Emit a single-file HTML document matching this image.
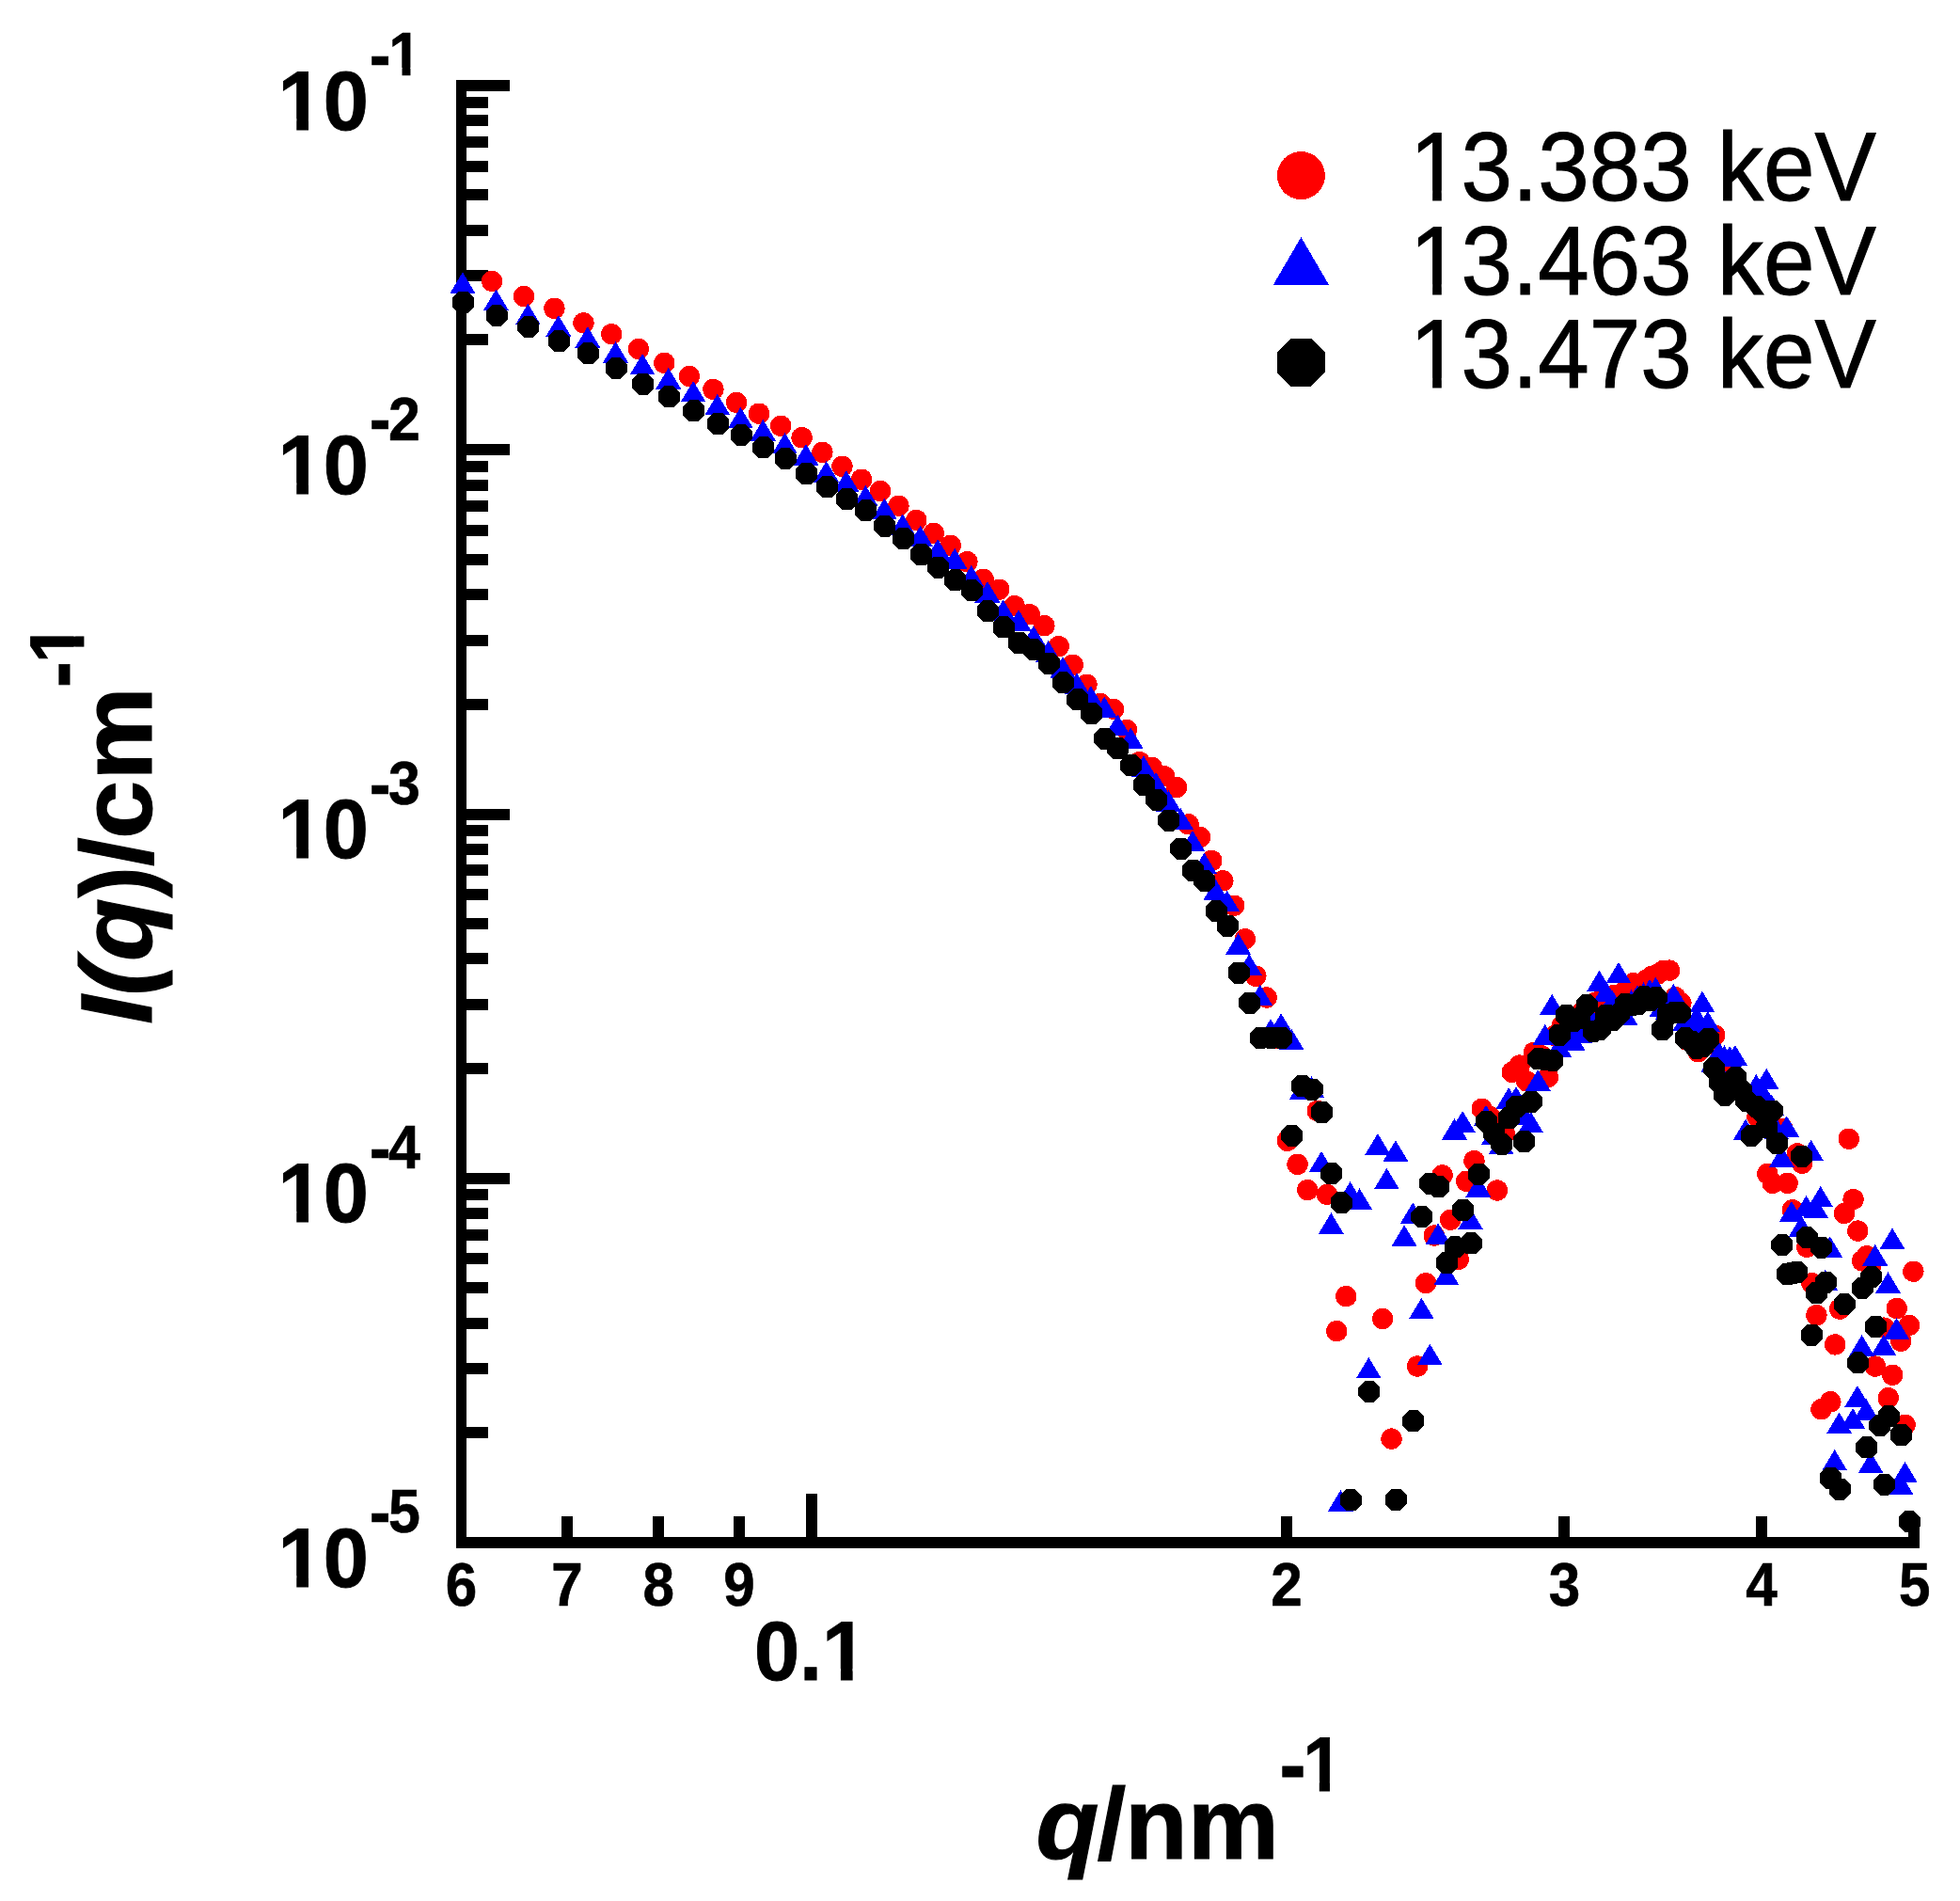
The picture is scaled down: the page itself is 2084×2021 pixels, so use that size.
<!DOCTYPE html>
<html><head><meta charset="utf-8"><title>I(q) plot</title>
<style>html,body{margin:0;padding:0;background:#fff}svg{display:block}text{stroke:#000;stroke-linejoin:miter;font-family:"Liberation Sans",Arial,Helvetica,sans-serif;fill:#000}.b{font-weight:bold}.i{font-style:italic}.w{fill:#fff}</style></head><body>
<svg width="2084" height="2021" viewBox="0 0 2084 2021">
<rect width="2084" height="2021" fill="#fff"/>
<g fill="#000" shape-rendering="crispEdges">
<rect x="485" y="85" width="11" height="1561"/>
<rect x="485" y="1634" width="1556" height="12"/>
<rect x="485" y="85" width="57" height="12"/>
<rect x="490" y="355.48" width="29" height="12"/>
<rect x="490" y="287.28" width="29" height="12"/>
<rect x="490" y="238.9" width="29" height="12"/>
<rect x="490" y="201.37" width="29" height="12"/>
<rect x="490" y="170.71" width="29" height="12"/>
<rect x="490" y="144.79" width="29" height="12"/>
<rect x="490" y="122.33" width="29" height="12"/>
<rect x="490" y="102.52" width="29" height="12"/>
<rect x="485" y="472.25" width="57" height="12"/>
<rect x="490" y="742.73" width="29" height="12"/>
<rect x="490" y="674.53" width="29" height="12"/>
<rect x="490" y="626.15" width="29" height="12"/>
<rect x="490" y="588.62" width="29" height="12"/>
<rect x="490" y="557.96" width="29" height="12"/>
<rect x="490" y="532.04" width="29" height="12"/>
<rect x="490" y="509.58" width="29" height="12"/>
<rect x="490" y="489.77" width="29" height="12"/>
<rect x="485" y="859.5" width="57" height="12"/>
<rect x="490" y="1129.98" width="29" height="12"/>
<rect x="490" y="1061.78" width="29" height="12"/>
<rect x="490" y="1013.4" width="29" height="12"/>
<rect x="490" y="975.87" width="29" height="12"/>
<rect x="490" y="945.21" width="29" height="12"/>
<rect x="490" y="919.29" width="29" height="12"/>
<rect x="490" y="896.83" width="29" height="12"/>
<rect x="490" y="877.02" width="29" height="12"/>
<rect x="485" y="1246.75" width="57" height="12"/>
<rect x="490" y="1517.23" width="29" height="12"/>
<rect x="490" y="1449.03" width="29" height="12"/>
<rect x="490" y="1400.65" width="29" height="12"/>
<rect x="490" y="1363.12" width="29" height="12"/>
<rect x="490" y="1332.46" width="29" height="12"/>
<rect x="490" y="1306.54" width="29" height="12"/>
<rect x="490" y="1284.08" width="29" height="12"/>
<rect x="490" y="1264.27" width="29" height="12"/>
<rect x="596.84" y="1612" width="12" height="26"/>
<rect x="694.15" y="1612" width="12" height="26"/>
<rect x="779.98" y="1612" width="12" height="26"/>
<rect x="856.76" y="1588" width="12" height="50"/>
<rect x="1361.89" y="1612" width="12" height="26"/>
<rect x="1657.37" y="1612" width="12" height="26"/>
<rect x="1867.02" y="1612" width="12" height="26"/>
<rect x="2029" y="1612" width="12" height="26"/>
</g>
<g fill="#f00" shape-rendering="crispEdges">
<circle cx="523.12" cy="298.9" r="11.2"/>
<circle cx="557.04" cy="315" r="11.2"/>
<circle cx="589.44" cy="327.9" r="11.2"/>
<circle cx="620.46" cy="343.3" r="11.2"/>
<circle cx="650.22" cy="355.2" r="11.2"/>
<circle cx="678.81" cy="371" r="11.2"/>
<circle cx="706.32" cy="385.9" r="11.2"/>
<circle cx="732.83" cy="400" r="11.2"/>
<circle cx="758.41" cy="413.9" r="11.2"/>
<circle cx="783.12" cy="427.9" r="11.2"/>
<circle cx="807.02" cy="439.7" r="11.2"/>
<circle cx="830.16" cy="452.8" r="11.2"/>
<circle cx="852.59" cy="465.2" r="11.2"/>
<circle cx="874.35" cy="480.9" r="11.2"/>
<circle cx="895.48" cy="495.8" r="11.2"/>
<circle cx="916.01" cy="509.7" r="11.2"/>
<circle cx="935.98" cy="522" r="11.2"/>
<circle cx="955.42" cy="537.7" r="11.2"/>
<circle cx="974.35" cy="553" r="11.2"/>
<circle cx="992.81" cy="566.8" r="11.2"/>
<circle cx="1010.8" cy="579.9" r="11.2"/>
<circle cx="1028.37" cy="597.1" r="11.2"/>
<circle cx="1045.52" cy="615.7" r="11.2"/>
<circle cx="1062.27" cy="626.8" r="11.2"/>
<circle cx="1078.65" cy="644.2" r="11.2"/>
<circle cx="1094.67" cy="653.1" r="11.2"/>
<circle cx="1110.35" cy="665.1" r="11.2"/>
<circle cx="1125.69" cy="687.1" r="11.2"/>
<circle cx="1140.72" cy="706.8" r="11.2"/>
<circle cx="1155.45" cy="727.8" r="11.2"/>
<circle cx="1169.88" cy="748" r="11.2"/>
<circle cx="1184.03" cy="753.8" r="11.2"/>
<circle cx="1197.91" cy="775.9" r="11.2"/>
<circle cx="1211.54" cy="810" r="11.2"/>
<circle cx="1224.91" cy="816.1" r="11.2"/>
<circle cx="1238.04" cy="825.3" r="11.2"/>
<circle cx="1250.94" cy="837" r="11.2"/>
<circle cx="1263.62" cy="876.3" r="11.2"/>
<circle cx="1276.08" cy="889.9" r="11.2"/>
<circle cx="1288.33" cy="915" r="11.2"/>
<circle cx="1300.37" cy="936.3" r="11.2"/>
<circle cx="1312.23" cy="962.8" r="11.2"/>
<circle cx="1323.89" cy="998.3" r="11.2"/>
<circle cx="1335.36" cy="1037.8" r="11.2"/>
<circle cx="1346.66" cy="1060.5" r="11.2"/>
<circle cx="1357.79" cy="1104.2" r="11.2"/>
<circle cx="1368.75" cy="1212.9" r="11.2"/>
<circle cx="1379.55" cy="1237.8" r="11.2"/>
<circle cx="1390.19" cy="1265.1" r="11.2"/>
<circle cx="1400.68" cy="1181" r="11.2"/>
<circle cx="1411.01" cy="1269.8" r="11.2"/>
<circle cx="1421.21" cy="1415.1" r="11.2"/>
<circle cx="1431.26" cy="1378.1" r="11.2"/>
<circle cx="1470.14" cy="1402" r="11.2"/>
<circle cx="1479.54" cy="1529.6" r="11.2"/>
<circle cx="1507.05" cy="1452.5" r="11.2"/>
<circle cx="1515.99" cy="1364.2" r="11.2"/>
<circle cx="1524.82" cy="1313.5" r="11.2"/>
<circle cx="1533.55" cy="1249.3" r="11.2"/>
<circle cx="1542.18" cy="1296.7" r="11.2"/>
<circle cx="1550.7" cy="1338.8" r="11.2"/>
<circle cx="1559.13" cy="1255.7" r="11.2"/>
<circle cx="1567.46" cy="1234.2" r="11.2"/>
<circle cx="1575.69" cy="1178.9" r="11.2"/>
<circle cx="1583.84" cy="1187" r="11.2"/>
<circle cx="1591.89" cy="1265.5" r="11.2"/>
<circle cx="1599.85" cy="1205" r="11.2"/>
<circle cx="1607.73" cy="1139.9" r="11.2"/>
<circle cx="1615.53" cy="1132.6" r="11.2"/>
<circle cx="1623.24" cy="1149.4" r="11.2"/>
<circle cx="1630.87" cy="1118.9" r="11.2"/>
<circle cx="1638.42" cy="1122" r="11.2"/>
<circle cx="1645.9" cy="1145.2" r="11.2"/>
<circle cx="1653.3" cy="1101" r="11.2"/>
<circle cx="1660.62" cy="1091" r="11.2"/>
<circle cx="1667.87" cy="1088" r="11.2"/>
<circle cx="1675.05" cy="1084" r="11.2"/>
<circle cx="1682.16" cy="1076" r="11.2"/>
<circle cx="1689.21" cy="1078" r="11.2"/>
<circle cx="1696.18" cy="1065.8" r="11.2"/>
<circle cx="1703.09" cy="1062" r="11.2"/>
<circle cx="1709.93" cy="1060" r="11.2"/>
<circle cx="1716.71" cy="1057.7" r="11.2"/>
<circle cx="1723.43" cy="1056.8" r="11.2"/>
<circle cx="1730.08" cy="1050" r="11.2"/>
<circle cx="1736.68" cy="1045.2" r="11.2"/>
<circle cx="1743.21" cy="1046" r="11.2"/>
<circle cx="1749.69" cy="1042.2" r="11.2"/>
<circle cx="1756.11" cy="1037.8" r="11.2"/>
<circle cx="1762.48" cy="1035.6" r="11.2"/>
<circle cx="1768.79" cy="1031.9" r="11.2"/>
<circle cx="1775.04" cy="1031.6" r="11.2"/>
<circle cx="1781.25" cy="1060" r="11.2"/>
<circle cx="1787.4" cy="1066.3" r="11.2"/>
<circle cx="1793.5" cy="1105.6" r="11.2"/>
<circle cx="1799.54" cy="1090" r="11.2"/>
<circle cx="1805.54" cy="1118.3" r="11.2"/>
<circle cx="1811.49" cy="1100" r="11.2"/>
<circle cx="1817.39" cy="1110" r="11.2"/>
<circle cx="1823.25" cy="1100.5" r="11.2"/>
<circle cx="1829.05" cy="1130" r="11.2"/>
<circle cx="1834.81" cy="1135" r="11.2"/>
<circle cx="1840.53" cy="1140" r="11.2"/>
<circle cx="1846.2" cy="1150" r="11.2"/>
<circle cx="1851.83" cy="1160" r="11.2"/>
<circle cx="1857.41" cy="1170" r="11.2"/>
<circle cx="1862.96" cy="1165" r="11.2"/>
<circle cx="1868.46" cy="1187.3" r="11.2"/>
<circle cx="1873.92" cy="1185" r="11.2"/>
<circle cx="1879.33" cy="1247.9" r="11.2"/>
<circle cx="1884.71" cy="1257.9" r="11.2"/>
<circle cx="1890.05" cy="1200" r="11.2"/>
<circle cx="1895.35" cy="1200" r="11.2"/>
<circle cx="1900.61" cy="1257.9" r="11.2"/>
<circle cx="1905.84" cy="1286.3" r="11.2"/>
<circle cx="1911.03" cy="1226.3" r="11.2"/>
<circle cx="1916.18" cy="1236.8" r="11.2"/>
<circle cx="1921.29" cy="1325.7" r="11.2"/>
<circle cx="1926.37" cy="1364.1" r="11.2"/>
<circle cx="1931.41" cy="1398.2" r="11.2"/>
<circle cx="1936.42" cy="1498.3" r="11.2"/>
<circle cx="1946.34" cy="1490.2" r="11.2"/>
<circle cx="1951.24" cy="1429.4" r="11.2"/>
<circle cx="1956.12" cy="1391.6" r="11.2"/>
<circle cx="1960.96" cy="1289.9" r="11.2"/>
<circle cx="1965.77" cy="1210.8" r="11.2"/>
<circle cx="1970.55" cy="1275" r="11.2"/>
<circle cx="1975.3" cy="1308.6" r="11.2"/>
<circle cx="1980.02" cy="1340.4" r="11.2"/>
<circle cx="1984.7" cy="1335.3" r="11.2"/>
<circle cx="1989.36" cy="1345.2" r="11.2"/>
<circle cx="1993.99" cy="1452.6" r="11.2"/>
<circle cx="2003.15" cy="1411.6" r="11.2"/>
<circle cx="2007.69" cy="1486.2" r="11.2"/>
<circle cx="2012.21" cy="1461.8" r="11.2"/>
<circle cx="2016.69" cy="1391" r="11.2"/>
<circle cx="2021.15" cy="1425.8" r="11.2"/>
<circle cx="2025.58" cy="1514.7" r="11.2"/>
<circle cx="2029.98" cy="1408.9" r="11.2"/>
<circle cx="2034.36" cy="1351.8" r="11.2"/>
</g>
<path fill="#00f" shape-rendering="crispEdges" d="M491.9 289.35l13.5 22.5h-27zM527.47 307.55l13.5 22.5h-27zM561.38 322.95l13.5 22.5h-27zM593.78 335.15l13.5 22.5h-27zM624.81 347.15l13.5 22.5h-27zM654.56 363.05l13.5 22.5h-27zM683.15 375.95l13.5 22.5h-27zM710.66 391.05l13.5 22.5h-27zM737.17 404.95l13.5 22.5h-27zM762.75 418.85l13.5 22.5h-27zM787.46 432.75l13.5 22.5h-27zM811.36 446.05l13.5 22.5h-27zM834.5 459.95l13.5 22.5h-27zM856.93 472.05l13.5 22.5h-27zM878.69 490.15l13.5 22.5h-27zM899.82 500.15l13.5 22.5h-27zM920.35 515.95l13.5 22.5h-27zM940.33 529.75l13.5 22.5h-27zM959.76 546.25l13.5 22.5h-27zM978.7 558.85l13.5 22.5h-27zM997.15 573.05l13.5 22.5h-27zM1015.15 582.85l13.5 22.5h-27zM1032.71 601.15l13.5 22.5h-27zM1049.86 618.05l13.5 22.5h-27zM1066.62 637.35l13.5 22.5h-27zM1083 648.05l13.5 22.5h-27zM1099.02 665.05l13.5 22.5h-27zM1114.69 681.15l13.5 22.5h-27zM1130.04 698.25l13.5 22.5h-27zM1145.06 715.45l13.5 22.5h-27zM1159.79 729.05l13.5 22.5h-27zM1174.22 740.35l13.5 22.5h-27zM1188.37 759.35l13.5 22.5h-27zM1202.26 773.55l13.5 22.5h-27zM1215.88 803.45l13.5 22.5h-27zM1229.25 821.25l13.5 22.5h-27zM1242.39 840.15l13.5 22.5h-27zM1255.29 859.05l13.5 22.5h-27zM1267.96 882.85l13.5 22.5h-27zM1280.42 906.45l13.5 22.5h-27zM1292.67 934.85l13.5 22.5h-27zM1304.72 946.65l13.5 22.5h-27zM1316.57 992.15l13.5 22.5h-27zM1328.23 1014.15l13.5 22.5h-27zM1339.71 1046.75l13.5 22.5h-27zM1351.01 1083.25l13.5 22.5h-27zM1362.13 1077.25l13.5 22.5h-27zM1373.09 1093.75l13.5 22.5h-27zM1383.89 1146.95l13.5 22.5h-27zM1394.53 1144.05l13.5 22.5h-27zM1405.02 1223.95l13.5 22.5h-27zM1415.36 1289.25l13.5 22.5h-27zM1425.55 1584.05l13.5 22.5h-27zM1435.6 1256.15l13.5 22.5h-27zM1445.52 1263.35l13.5 22.5h-27zM1455.3 1442.95l13.5 22.5h-27zM1464.96 1205.05l13.5 22.5h-27zM1474.48 1241.85l13.5 22.5h-27zM1483.89 1212.25l13.5 22.5h-27zM1493.17 1302.25l13.5 22.5h-27zM1502.34 1278.25l13.5 22.5h-27zM1511.39 1379.95l13.5 22.5h-27zM1520.33 1428.55l13.5 22.5h-27zM1529.17 1300.35l13.5 22.5h-27zM1537.9 1343.75l13.5 22.5h-27zM1546.52 1189.05l13.5 22.5h-27zM1555.05 1181.05l13.5 22.5h-27zM1563.47 1284.75l13.5 22.5h-27zM1571.8 1250.05l13.5 22.5h-27zM1580.04 1174.95l13.5 22.5h-27zM1588.18 1194.95l13.5 22.5h-27zM1596.23 1204.85l13.5 22.5h-27zM1604.2 1156.05l13.5 22.5h-27zM1612.08 1155.15l13.5 22.5h-27zM1619.87 1173.75l13.5 22.5h-27zM1627.58 1181.75l13.5 22.5h-27zM1635.21 1137.25l13.5 22.5h-27zM1642.77 1088.95l13.5 22.5h-27zM1650.24 1056.75l13.5 22.5h-27zM1657.64 1101.35l13.5 22.5h-27zM1664.97 1078.75l13.5 22.5h-27zM1672.22 1094.35l13.5 22.5h-27zM1679.4 1086.25l13.5 22.5h-27zM1686.51 1073.75l13.5 22.5h-27zM1693.55 1073.75l13.5 22.5h-27zM1700.52 1031.75l13.5 22.5h-27zM1707.43 1042.75l13.5 22.5h-27zM1714.27 1052.75l13.5 22.5h-27zM1721.05 1022.85l13.5 22.5h-27zM1727.77 1067.15l13.5 22.5h-27zM1734.43 1052.35l13.5 22.5h-27zM1741.02 1047.15l13.5 22.5h-27zM1747.56 1044.25l13.5 22.5h-27zM1754.04 1040.95l13.5 22.5h-27zM1760.46 1038.75l13.5 22.5h-27zM1766.82 1058.75l13.5 22.5h-27zM1773.13 1061.65l13.5 22.5h-27zM1779.39 1045.75l13.5 22.5h-27zM1785.59 1063.75l13.5 22.5h-27zM1791.74 1073.75l13.5 22.5h-27zM1797.84 1078.75l13.5 22.5h-27zM1803.89 1069.65l13.5 22.5h-27zM1809.89 1053.75l13.5 22.5h-27zM1815.83 1074.95l13.5 22.5h-27zM1821.74 1117.55l13.5 22.5h-27zM1827.59 1107.25l13.5 22.5h-27zM1833.4 1111.25l13.5 22.5h-27zM1839.16 1111.95l13.5 22.5h-27zM1844.87 1110.95l13.5 22.5h-27zM1850.55 1138.75l13.5 22.5h-27zM1856.17 1189.65l13.5 22.5h-27zM1861.76 1153.75l13.5 22.5h-27zM1867.3 1141.95l13.5 22.5h-27zM1872.8 1147.65l13.5 22.5h-27zM1878.26 1135.85l13.5 22.5h-27zM1883.68 1163.75l13.5 22.5h-27zM1889.06 1188.75l13.5 22.5h-27zM1894.4 1218.55l13.5 22.5h-27zM1899.7 1186.25l13.5 22.5h-27zM1904.96 1276.95l13.5 22.5h-27zM1915.37 1292.25l13.5 22.5h-27zM1920.52 1270.95l13.5 22.5h-27zM1925.63 1211.95l13.5 22.5h-27zM1930.71 1272.75l13.5 22.5h-27zM1935.76 1260.95l13.5 22.5h-27zM1940.76 1349.65l13.5 22.5h-27zM1945.74 1314.25l13.5 22.5h-27zM1950.68 1540.95l13.5 22.5h-27zM1955.59 1501.55l13.5 22.5h-27zM1970.12 1496.95l13.5 22.5h-27zM1974.89 1473.05l13.5 22.5h-27zM1979.64 1419.05l13.5 22.5h-27zM1984.36 1487.25l13.5 22.5h-27zM1989.05 1543.65l13.5 22.5h-27zM1993.7 1323.05l13.5 22.5h-27zM2002.93 1418.65l13.5 22.5h-27zM2007.5 1352.45l13.5 22.5h-27zM2012.04 1305.55l13.5 22.5h-27zM2016.55 1401.05l13.5 22.5h-27zM2021.03 1566.45l13.5 22.5h-27zM2025.49 1553.95l13.5 22.5h-27z"/>
<path fill="#000" shape-rendering="crispEdges" d="M487.68 310h9.53l6.74 6.74v9.53l-6.74 6.74h-9.53l-6.74 -6.74v-9.53zM523.24 323.9h9.53l6.74 6.74v9.53l-6.74 6.74h-9.53l-6.74 -6.74v-9.53zM557.16 336.1h9.53l6.74 6.74v9.53l-6.74 6.74h-9.53l-6.74 -6.74v-9.53zM589.56 351.2h9.53l6.74 6.74v9.53l-6.74 6.74h-9.53l-6.74 -6.74v-9.53zM620.58 364.4h9.53l6.74 6.74v9.53l-6.74 6.74h-9.53l-6.74 -6.74v-9.53zM650.34 380.1h9.53l6.74 6.74v9.53l-6.74 6.74h-9.53l-6.74 -6.74v-9.53zM678.93 396.6h9.53l6.74 6.74v9.53l-6.74 6.74h-9.53l-6.74 -6.74v-9.53zM706.44 410.3h9.53l6.74 6.74v9.53l-6.74 6.74h-9.53l-6.74 -6.74v-9.53zM732.95 425.3h9.53l6.74 6.74v9.53l-6.74 6.74h-9.53l-6.74 -6.74v-9.53zM758.53 439h9.53l6.74 6.74v9.53l-6.74 6.74h-9.53l-6.74 -6.74v-9.53zM783.24 451.1h9.53l6.74 6.74v9.53l-6.74 6.74h-9.53l-6.74 -6.74v-9.53zM807.14 464.2h9.53l6.74 6.74v9.53l-6.74 6.74h-9.53l-6.74 -6.74v-9.53zM830.28 476.1h9.53l6.74 6.74v9.53l-6.74 6.74h-9.53l-6.74 -6.74v-9.53zM852.71 491.8h9.53l6.74 6.74v9.53l-6.74 6.74h-9.53l-6.74 -6.74v-9.53zM874.47 506h9.53l6.74 6.74v9.53l-6.74 6.74h-9.53l-6.74 -6.74v-9.53zM895.6 519h9.53l6.74 6.74v9.53l-6.74 6.74h-9.53l-6.74 -6.74v-9.53zM916.13 531.3h9.53l6.74 6.74v9.53l-6.74 6.74h-9.53l-6.74 -6.74v-9.53zM936.1 547.9h9.53l6.74 6.74v9.53l-6.74 6.74h-9.53l-6.74 -6.74v-9.53zM955.54 561h9.53l6.74 6.74v9.53l-6.74 6.74h-9.53l-6.74 -6.74v-9.53zM974.47 578h9.53l6.74 6.74v9.53l-6.74 6.74h-9.53l-6.74 -6.74v-9.53zM992.93 591.5h9.53l6.74 6.74v9.53l-6.74 6.74h-9.53l-6.74 -6.74v-9.53zM1010.92 605.2h9.53l6.74 6.74v9.53l-6.74 6.74h-9.53l-6.74 -6.74v-9.53zM1028.49 616.2h9.53l6.74 6.74v9.53l-6.74 6.74h-9.53l-6.74 -6.74v-9.53zM1045.64 638.3h9.53l6.74 6.74v9.53l-6.74 6.74h-9.53l-6.74 -6.74v-9.53zM1062.39 655.4h9.53l6.74 6.74v9.53l-6.74 6.74h-9.53l-6.74 -6.74v-9.53zM1078.77 672.1h9.53l6.74 6.74v9.53l-6.74 6.74h-9.53l-6.74 -6.74v-9.53zM1094.79 679.4h9.53l6.74 6.74v9.53l-6.74 6.74h-9.53l-6.74 -6.74v-9.53zM1110.47 693.6h9.53l6.74 6.74v9.53l-6.74 6.74h-9.53l-6.74 -6.74v-9.53zM1125.81 714.4h9.53l6.74 6.74v9.53l-6.74 6.74h-9.53l-6.74 -6.74v-9.53zM1140.84 732.2h9.53l6.74 6.74v9.53l-6.74 6.74h-9.53l-6.74 -6.74v-9.53zM1155.57 747.1h9.53l6.74 6.74v9.53l-6.74 6.74h-9.53l-6.74 -6.74v-9.53zM1170 773.9h9.53l6.74 6.74v9.53l-6.74 6.74h-9.53l-6.74 -6.74v-9.53zM1184.15 784.3h9.53l6.74 6.74v9.53l-6.74 6.74h-9.53l-6.74 -6.74v-9.53zM1198.03 802.3h9.53l6.74 6.74v9.53l-6.74 6.74h-9.53l-6.74 -6.74v-9.53zM1211.66 823.1h9.53l6.74 6.74v9.53l-6.74 6.74h-9.53l-6.74 -6.74v-9.53zM1225.03 838.6h9.53l6.74 6.74v9.53l-6.74 6.74h-9.53l-6.74 -6.74v-9.53zM1238.16 860.6h9.53l6.74 6.74v9.53l-6.74 6.74h-9.53l-6.74 -6.74v-9.53zM1251.06 890.9h9.53l6.74 6.74v9.53l-6.74 6.74h-9.53l-6.74 -6.74v-9.53zM1263.74 913.9h9.53l6.74 6.74v9.53l-6.74 6.74h-9.53l-6.74 -6.74v-9.53zM1276.2 925.1h9.53l6.74 6.74v9.53l-6.74 6.74h-9.53l-6.74 -6.74v-9.53zM1288.45 957h9.53l6.74 6.74v9.53l-6.74 6.74h-9.53l-6.74 -6.74v-9.53zM1300.5 972.9h9.53l6.74 6.74v9.53l-6.74 6.74h-9.53l-6.74 -6.74v-9.53zM1312.35 1022.6h9.53l6.74 6.74v9.53l-6.74 6.74h-9.53l-6.74 -6.74v-9.53zM1324.01 1054.7h9.53l6.74 6.74v9.53l-6.74 6.74h-9.53l-6.74 -6.74v-9.53zM1335.49 1091.6h9.53l6.74 6.74v9.53l-6.74 6.74h-9.53l-6.74 -6.74v-9.53zM1346.79 1091.6h9.53l6.74 6.74v9.53l-6.74 6.74h-9.53l-6.74 -6.74v-9.53zM1357.91 1091.6h9.53l6.74 6.74v9.53l-6.74 6.74h-9.53l-6.74 -6.74v-9.53zM1368.87 1195.8h9.53l6.74 6.74v9.53l-6.74 6.74h-9.53l-6.74 -6.74v-9.53zM1379.67 1143.2h9.53l6.74 6.74v9.53l-6.74 6.74h-9.53l-6.74 -6.74v-9.53zM1390.31 1146.7h9.53l6.74 6.74v9.53l-6.74 6.74h-9.53l-6.74 -6.74v-9.53zM1400.8 1170.9h9.53l6.74 6.74v9.53l-6.74 6.74h-9.53l-6.74 -6.74v-9.53zM1411.13 1236.2h9.53l6.74 6.74v9.53l-6.74 6.74h-9.53l-6.74 -6.74v-9.53zM1421.33 1267.3h9.53l6.74 6.74v9.53l-6.74 6.74h-9.53l-6.74 -6.74v-9.53zM1431.38 1583.3h9.53l6.74 6.74v9.53l-6.74 6.74h-9.53l-6.74 -6.74v-9.53zM1451.08 1468h9.53l6.74 6.74v9.53l-6.74 6.74h-9.53l-6.74 -6.74v-9.53zM1479.66 1582.8h9.53l6.74 6.74v9.53l-6.74 6.74h-9.53l-6.74 -6.74v-9.53zM1498.12 1499.2h9.53l6.74 6.74v9.53l-6.74 6.74h-9.53l-6.74 -6.74v-9.53zM1507.17 1282h9.53l6.74 6.74v9.53l-6.74 6.74h-9.53l-6.74 -6.74v-9.53zM1516.11 1246.7h9.53l6.74 6.74v9.53l-6.74 6.74h-9.53l-6.74 -6.74v-9.53zM1524.95 1250h9.53l6.74 6.74v9.53l-6.74 6.74h-9.53l-6.74 -6.74v-9.53zM1533.67 1331.1h9.53l6.74 6.74v9.53l-6.74 6.74h-9.53l-6.74 -6.74v-9.53zM1542.3 1314.2h9.53l6.74 6.74v9.53l-6.74 6.74h-9.53l-6.74 -6.74v-9.53zM1550.82 1275.1h9.53l6.74 6.74v9.53l-6.74 6.74h-9.53l-6.74 -6.74v-9.53zM1559.25 1310.4h9.53l6.74 6.74v9.53l-6.74 6.74h-9.53l-6.74 -6.74v-9.53zM1567.58 1236.8h9.53l6.74 6.74v9.53l-6.74 6.74h-9.53l-6.74 -6.74v-9.53zM1575.81 1180.8h9.53l6.74 6.74v9.53l-6.74 6.74h-9.53l-6.74 -6.74v-9.53zM1583.96 1193.7h9.53l6.74 6.74v9.53l-6.74 6.74h-9.53l-6.74 -6.74v-9.53zM1592.01 1205h9.53l6.74 6.74v9.53l-6.74 6.74h-9.53l-6.74 -6.74v-9.53zM1599.97 1177h9.53l6.74 6.74v9.53l-6.74 6.74h-9.53l-6.74 -6.74v-9.53zM1607.85 1164.9h9.53l6.74 6.74v9.53l-6.74 6.74h-9.53l-6.74 -6.74v-9.53zM1615.65 1201.9h9.53l6.74 6.74v9.53l-6.74 6.74h-9.53l-6.74 -6.74v-9.53zM1623.36 1159.5h9.53l6.74 6.74v9.53l-6.74 6.74h-9.53l-6.74 -6.74v-9.53zM1630.99 1114.2h9.53l6.74 6.74v9.53l-6.74 6.74h-9.53l-6.74 -6.74v-9.53zM1638.54 1115.1h9.53l6.74 6.74v9.53l-6.74 6.74h-9.53l-6.74 -6.74v-9.53zM1646.02 1116h9.53l6.74 6.74v9.53l-6.74 6.74h-9.53l-6.74 -6.74v-9.53zM1653.42 1088.5h9.53l6.74 6.74v9.53l-6.74 6.74h-9.53l-6.74 -6.74v-9.53zM1660.74 1067.9h9.53l6.74 6.74v9.53l-6.74 6.74h-9.53l-6.74 -6.74v-9.53zM1667.99 1073.6h9.53l6.74 6.74v9.53l-6.74 6.74h-9.53l-6.74 -6.74v-9.53zM1675.17 1071.1h9.53l6.74 6.74v9.53l-6.74 6.74h-9.53l-6.74 -6.74v-9.53zM1682.29 1057h9.53l6.74 6.74v9.53l-6.74 6.74h-9.53l-6.74 -6.74v-9.53zM1689.33 1085h9.53l6.74 6.74v9.53l-6.74 6.74h-9.53l-6.74 -6.74v-9.53zM1696.3 1082.8h9.53l6.74 6.74v9.53l-6.74 6.74h-9.53l-6.74 -6.74v-9.53zM1703.21 1067.5h9.53l6.74 6.74v9.53l-6.74 6.74h-9.53l-6.74 -6.74v-9.53zM1710.05 1072.9h9.53l6.74 6.74v9.53l-6.74 6.74h-9.53l-6.74 -6.74v-9.53zM1716.83 1066.2h9.53l6.74 6.74v9.53l-6.74 6.74h-9.53l-6.74 -6.74v-9.53zM1723.55 1056.4h9.53l6.74 6.74v9.53l-6.74 6.74h-9.53l-6.74 -6.74v-9.53zM1730.2 1057.1h9.53l6.74 6.74v9.53l-6.74 6.74h-9.53l-6.74 -6.74v-9.53zM1736.8 1055.9h9.53l6.74 6.74v9.53l-6.74 6.74h-9.53l-6.74 -6.74v-9.53zM1743.34 1048.3h9.53l6.74 6.74v9.53l-6.74 6.74h-9.53l-6.74 -6.74v-9.53zM1749.81 1051.9h9.53l6.74 6.74v9.53l-6.74 6.74h-9.53l-6.74 -6.74v-9.53zM1756.24 1049.1h9.53l6.74 6.74v9.53l-6.74 6.74h-9.53l-6.74 -6.74v-9.53zM1762.6 1083.1h9.53l6.74 6.74v9.53l-6.74 6.74h-9.53l-6.74 -6.74v-9.53zM1768.91 1067.1h9.53l6.74 6.74v9.53l-6.74 6.74h-9.53l-6.74 -6.74v-9.53zM1775.17 1065.2h9.53l6.74 6.74v9.53l-6.74 6.74h-9.53l-6.74 -6.74v-9.53zM1781.37 1065.2h9.53l6.74 6.74v9.53l-6.74 6.74h-9.53l-6.74 -6.74v-9.53zM1787.52 1092.3h9.53l6.74 6.74v9.53l-6.74 6.74h-9.53l-6.74 -6.74v-9.53zM1793.62 1095.8h9.53l6.74 6.74v9.53l-6.74 6.74h-9.53l-6.74 -6.74v-9.53zM1799.66 1102.8h9.53l6.74 6.74v9.53l-6.74 6.74h-9.53l-6.74 -6.74v-9.53zM1805.66 1101.1h9.53l6.74 6.74v9.53l-6.74 6.74h-9.53l-6.74 -6.74v-9.53zM1811.61 1093.1h9.53l6.74 6.74v9.53l-6.74 6.74h-9.53l-6.74 -6.74v-9.53zM1817.51 1124.1h9.53l6.74 6.74v9.53l-6.74 6.74h-9.53l-6.74 -6.74v-9.53zM1823.37 1139h9.53l6.74 6.74v9.53l-6.74 6.74h-9.53l-6.74 -6.74v-9.53zM1829.17 1152.6h9.53l6.74 6.74v9.53l-6.74 6.74h-9.53l-6.74 -6.74v-9.53zM1834.94 1144.2h9.53l6.74 6.74v9.53l-6.74 6.74h-9.53l-6.74 -6.74v-9.53zM1840.65 1134.1h9.53l6.74 6.74v9.53l-6.74 6.74h-9.53l-6.74 -6.74v-9.53zM1846.32 1147.4h9.53l6.74 6.74v9.53l-6.74 6.74h-9.53l-6.74 -6.74v-9.53zM1851.95 1158.5h9.53l6.74 6.74v9.53l-6.74 6.74h-9.53l-6.74 -6.74v-9.53zM1857.54 1195.9h9.53l6.74 6.74v9.53l-6.74 6.74h-9.53l-6.74 -6.74v-9.53zM1863.08 1165.3h9.53l6.74 6.74v9.53l-6.74 6.74h-9.53l-6.74 -6.74v-9.53zM1868.58 1169.9h9.53l6.74 6.74v9.53l-6.74 6.74h-9.53l-6.74 -6.74v-9.53zM1874.04 1187.4h9.53l6.74 6.74v9.53l-6.74 6.74h-9.53l-6.74 -6.74v-9.53zM1879.46 1169.9h9.53l6.74 6.74v9.53l-6.74 6.74h-9.53l-6.74 -6.74v-9.53zM1884.83 1204h9.53l6.74 6.74v9.53l-6.74 6.74h-9.53l-6.74 -6.74v-9.53zM1890.17 1311.9h9.53l6.74 6.74v9.53l-6.74 6.74h-9.53l-6.74 -6.74v-9.53zM1895.47 1343.4h9.53l6.74 6.74v9.53l-6.74 6.74h-9.53l-6.74 -6.74v-9.53zM1900.74 1342.1h9.53l6.74 6.74v9.53l-6.74 6.74h-9.53l-6.74 -6.74v-9.53zM1905.96 1340.7h9.53l6.74 6.74v9.53l-6.74 6.74h-9.53l-6.74 -6.74v-9.53zM1911.15 1217.7h9.53l6.74 6.74v9.53l-6.74 6.74h-9.53l-6.74 -6.74v-9.53zM1916.3 1304h9.53l6.74 6.74v9.53l-6.74 6.74h-9.53l-6.74 -6.74v-9.53zM1921.41 1407.9h9.53l6.74 6.74v9.53l-6.74 6.74h-9.53l-6.74 -6.74v-9.53zM1926.49 1363.2h9.53l6.74 6.74v9.53l-6.74 6.74h-9.53l-6.74 -6.74v-9.53zM1931.53 1314.5h9.53l6.74 6.74v9.53l-6.74 6.74h-9.53l-6.74 -6.74v-9.53zM1936.54 1351.6h9.53l6.74 6.74v9.53l-6.74 6.74h-9.53l-6.74 -6.74v-9.53zM1941.52 1560h9.53l6.74 6.74v9.53l-6.74 6.74h-9.53l-6.74 -6.74v-9.53zM1951.37 1571.6h9.53l6.74 6.74v9.53l-6.74 6.74h-9.53l-6.74 -6.74v-9.53zM1956.24 1374.9h9.53l6.74 6.74v9.53l-6.74 6.74h-9.53l-6.74 -6.74v-9.53zM1970.67 1437.4h9.53l6.74 6.74v9.53l-6.74 6.74h-9.53l-6.74 -6.74v-9.53zM1975.42 1358h9.53l6.74 6.74v9.53l-6.74 6.74h-9.53l-6.74 -6.74v-9.53zM1980.14 1527.4h9.53l6.74 6.74v9.53l-6.74 6.74h-9.53l-6.74 -6.74v-9.53zM1984.82 1346.3h9.53l6.74 6.74v9.53l-6.74 6.74h-9.53l-6.74 -6.74v-9.53zM1989.48 1399h9.53l6.74 6.74v9.53l-6.74 6.74h-9.53l-6.74 -6.74v-9.53zM1994.11 1504h9.53l6.74 6.74v9.53l-6.74 6.74h-9.53l-6.74 -6.74v-9.53zM1998.71 1566.6h9.53l6.74 6.74v9.53l-6.74 6.74h-9.53l-6.74 -6.74v-9.53zM2003.27 1494.2h9.53l6.74 6.74v9.53l-6.74 6.74h-9.53l-6.74 -6.74v-9.53zM2016.81 1513.9h9.53l6.74 6.74v9.53l-6.74 6.74h-9.53l-6.74 -6.74v-9.53zM2025.7 1606.3h9.53l6.74 6.74v9.53l-6.74 6.74h-9.53l-6.74 -6.74v-9.53z"/>
<g transform="translate(295.5,137.7) scale(0.973,1.0)"><text font-size="89" class="b" stroke-width="0.89">10</text><rect class="w" x="2.67" y="-11.57" width="17.66" height="14.24"/><rect class="w" x="33.43" y="-11.57" width="17.36" height="14.24"/></g>
<g transform="translate(393,84) scale(1.08,1.2)"><text font-size="62.3" class="b" stroke-width="0.62">-</text></g>
<g transform="translate(413.6,80.3) scale(0.977,1.03)"><text font-size="62.3" class="b" stroke-width="0.62">1</text><rect class="w" x="1.87" y="-8.1" width="12.36" height="9.97"/><rect class="w" x="23.4" y="-8.1" width="12.15" height="9.97"/></g>
<g transform="translate(295.5,524.95) scale(0.973,1.0)"><text font-size="89" class="b" stroke-width="0.89">10</text><rect class="w" x="2.67" y="-11.57" width="17.66" height="14.24"/><rect class="w" x="33.43" y="-11.57" width="17.36" height="14.24"/></g>
<g transform="translate(393,471.25) scale(1.08,1.2)"><text font-size="62.3" class="b" stroke-width="0.62">-</text></g>
<g transform="translate(412.9,467.55) scale(0.977,1.03)"><text font-size="62.3" class="b" stroke-width="0.62">2</text></g>
<g transform="translate(295.5,912.2) scale(0.973,1.0)"><text font-size="89" class="b" stroke-width="0.89">10</text><rect class="w" x="2.67" y="-11.57" width="17.66" height="14.24"/><rect class="w" x="33.43" y="-11.57" width="17.36" height="14.24"/></g>
<g transform="translate(393,858.5) scale(1.08,1.2)"><text font-size="62.3" class="b" stroke-width="0.62">-</text></g>
<g transform="translate(412.9,854.8) scale(0.977,1.03)"><text font-size="62.3" class="b" stroke-width="0.62">3</text></g>
<g transform="translate(295.5,1299.45) scale(0.973,1.0)"><text font-size="89" class="b" stroke-width="0.89">10</text><rect class="w" x="2.67" y="-11.57" width="17.66" height="14.24"/><rect class="w" x="33.43" y="-11.57" width="17.36" height="14.24"/></g>
<g transform="translate(393,1245.75) scale(1.08,1.2)"><text font-size="62.3" class="b" stroke-width="0.62">-</text></g>
<g transform="translate(412.9,1242.05) scale(0.977,1.03)"><text font-size="62.3" class="b" stroke-width="0.62">4</text></g>
<g transform="translate(295.5,1686.7) scale(0.973,1.0)"><text font-size="89" class="b" stroke-width="0.89">10</text><rect class="w" x="2.67" y="-11.57" width="17.66" height="14.24"/><rect class="w" x="33.43" y="-11.57" width="17.36" height="14.24"/></g>
<g transform="translate(393,1633) scale(1.08,1.2)"><text font-size="62.3" class="b" stroke-width="0.62">-</text></g>
<g transform="translate(412.9,1629.3) scale(0.977,1.03)"><text font-size="62.3" class="b" stroke-width="0.62">5</text></g>
<g transform="translate(490.5,1707) scale(0.97,1.04)"><text font-size="62" class="b" text-anchor="middle" stroke-width="0.62">6</text></g>
<g transform="translate(602.84,1707) scale(0.97,1.04)"><text font-size="62" class="b" text-anchor="middle" stroke-width="0.62">7</text></g>
<g transform="translate(700.15,1707) scale(0.97,1.04)"><text font-size="62" class="b" text-anchor="middle" stroke-width="0.62">8</text></g>
<g transform="translate(785.98,1707) scale(0.97,1.04)"><text font-size="62" class="b" text-anchor="middle" stroke-width="0.62">9</text></g>
<g transform="translate(1367.89,1707) scale(0.97,1.04)"><text font-size="62" class="b" text-anchor="middle" stroke-width="0.62">2</text></g>
<g transform="translate(1663.37,1707) scale(0.97,1.04)"><text font-size="62" class="b" text-anchor="middle" stroke-width="0.62">3</text></g>
<g transform="translate(1873.02,1707) scale(0.97,1.04)"><text font-size="62" class="b" text-anchor="middle" stroke-width="0.62">4</text></g>
<g transform="translate(2035.63,1707) scale(0.97,1.04)"><text font-size="62" class="b" text-anchor="middle" stroke-width="0.62">5</text></g>
<g transform="translate(801.9,1785.6) scale(0.973,1.0)"><text font-size="89" class="b" stroke-width="0.89">0.1</text><rect class="w" x="76.9" y="-11.57" width="17.66" height="14.24"/><rect class="w" x="107.65" y="-11.57" width="17.36" height="14.24"/></g>
<g transform="translate(1101.5,1975.8) scale(0.99,0.97)"><text font-size="111" class="b i" stroke-width="1.11">q</text></g>
<g transform="translate(1166.5,1975.8) scale(1.0,0.97)"><text font-size="111" class="b" stroke-width="1.11">/</text></g>
<g transform="translate(1196,1975.8) scale(0.985,0.97)"><text font-size="111" class="b" stroke-width="1.11">nm</text></g>
<g transform="translate(1360.5,1907.5) scale(1.08,1.2)"><text font-size="78" class="b" stroke-width="0.78">-</text></g>
<g transform="translate(1385.4,1903.9) scale(0.975,1.04)"><text font-size="78" class="b" stroke-width="0.78">1</text><rect class="w" x="2.34" y="-10.14" width="15.48" height="12.48"/><rect class="w" x="29.3" y="-10.14" width="15.21" height="12.48"/></g>
<g transform="translate(160.8,1089) rotate(-90) scale(0.99,0.97)"><text font-size="111" class="b i" stroke-width="1.11">I(q</text></g>
<g transform="translate(160.8,954.5) rotate(-90) scale(0.9,0.97)"><text font-size="111" class="b" stroke-width="1.11">)</text></g>
<g transform="translate(160.8,921) rotate(-90) scale(1.0,0.97)"><text font-size="111" class="b" stroke-width="1.11">/</text></g>
<g transform="translate(160.8,892) rotate(-90) scale(1.01,0.97)"><text font-size="111" class="b" stroke-width="1.11">cm</text></g>
<g transform="translate(93,731) rotate(-90) scale(1.08,1.2)"><text font-size="78" class="b" stroke-width="0.78">-</text></g>
<g transform="translate(88.9,705) rotate(-90) scale(0.975,1.04)"><text font-size="78" class="b" stroke-width="0.78">1</text><rect class="w" x="2.34" y="-10.14" width="15.48" height="12.48"/><rect class="w" x="29.3" y="-10.14" width="15.21" height="12.48"/></g>
<g transform="translate(1499,212.9) scale(0.98,1.03)"><text font-size="100" class="r" stroke-width="1.0">13.383 keV</text><rect class="w" x="4" y="-10" width="20.65" height="13"/><rect class="w" x="34.48" y="-10" width="20" height="13"/></g>
<g transform="translate(1499,312.5) scale(0.98,1.03)"><text font-size="100" class="r" stroke-width="1.0">13.463 keV</text><rect class="w" x="4" y="-10" width="20.65" height="13"/><rect class="w" x="34.48" y="-10" width="20" height="13"/></g>
<g transform="translate(1499,412.1) scale(0.98,1.03)"><text font-size="100" class="r" stroke-width="1.0">13.473 keV</text><rect class="w" x="4" y="-10" width="20.65" height="13"/><rect class="w" x="34.48" y="-10" width="20" height="13"/></g>
<g shape-rendering="crispEdges">
<circle cx="1383.4" cy="186.6" r="25.5" fill="#f00"/>
<path d="M1383.4 252l29.8 51.2h-59.6z" fill="#00f"/>
<path d="M1372.84 359.9h21.12l14.94 14.94v21.12l-14.94 14.94h-21.12l-14.94 -14.94v-21.12z" fill="#000"/>
</g>
</svg></body></html>
